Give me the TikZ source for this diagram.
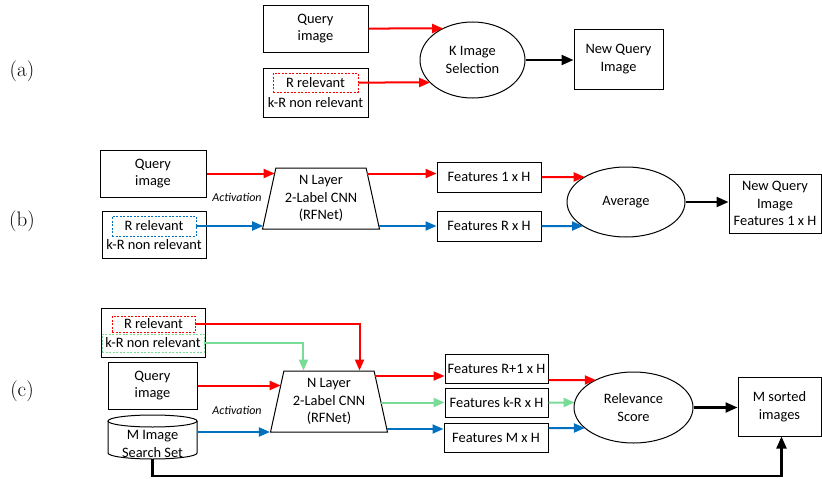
\documentclass[tikz,border=0pt]{standalone}
\usepackage{fontspec}
\newfontfamily\calfont{Carlito}
\usetikzlibrary{shapes.geometric,arrows.meta,intersections,calc}

\definecolor{cred}{RGB}{255,0,0}
\definecolor{cblue}{RGB}{0,112,192}
\definecolor{cgreen}{RGB}{120,220,150}

\tikzset{
  box/.style={draw, line width=1pt, inner sep=0pt, align=center,
    font=\calfont\fontsize{14.4}{17.5}\selectfont},
  plain/.style={inner sep=0pt, align=center,
    font=\calfont\fontsize{14.4}{17.5}\selectfont},
  ell/.style={box, ellipse},
  trap/.style={box, trapezium, trapezium stretches=true,
    trapezium left angle=77, trapezium right angle=77},
  dbox/.style={draw, line width=0.8pt, dash pattern=on 2pt off 1.5pt,
    inner sep=0pt, align=center, font=\calfont\fontsize{14.4}{17.5}\selectfont},
  arr/.style={line width=2pt, -{Triangle[length=11pt,width=9pt]}},
  redarr/.style={arr, cred},
  bluearr/.style={arr, cblue},
  greenarr/.style={arr, cgreen},
  blackarr/.style={line width=2.2pt, black, -{Triangle[length=12pt,width=10pt]}},
  act/.style={font=\calfont\itshape\fontsize{12}{14}\selectfont},
  tag/.style={font=\fontsize{21}{25}\selectfont}
}

\begin{document}
\begin{tikzpicture}[x=1pt,y=-1pt]
\useasboundingbox (0,0) rectangle (822,479);

% ---------------- row (a) ----------------
\node[tag] (la) at (22,71) {(a)};
\node[box, minimum width=105pt, minimum height=47pt] (qa) at (315.5,28.5) {Query\\image};
\node[box, minimum width=105pt, minimum height=49pt] (ra) at (315.5,92.5) {};
\node[dbox, cred, minimum width=85pt, minimum height=19pt, text=black] (rar) at (315.5,82.5) {R relevant};
\node[plain] (rak) at (315.5,102.5) {k-R non relevant};
\node[ell, minimum width=105pt, minimum height=76pt, name path=Ea] (Ea) at (472.5,60) {K Image\\Selection};
\node[box, minimum width=89pt, minimum height=60pt] (na) at (618.5,59) {New Query\\Image};

\path[name path=ga1] (qa.east) -- ++(200,0);
\path[name intersections={of=ga1 and Ea, sort by=ga1}] coordinate (ia1) at (intersection-1);
\draw[redarr] (qa.east) -- (ia1);
\path[name path=ga2] (rar.east) -- ++(200,0);
\path[name intersections={of=ga2 and Ea, sort by=ga2}] coordinate (ia2) at (intersection-1);
\draw[redarr] (rar.east) -- (ia2);
\draw[blackarr] (Ea.east) -- (Ea.east -| na.west);

% ---------------- row (b) ----------------
\node[tag] (lb) at (22,221) {(b)};
\node[box, minimum width=106pt, minimum height=47pt] (qb) at (153,173.5) {Query\\image};
\node[box, minimum width=104pt, minimum height=47pt] (rb) at (154,234.5) {};
\node[dbox, cblue, minimum width=84pt, minimum height=20pt, text=black] (rbr) at (154,226) {R relevant};
\node[plain] (rbk) at (154,245) {k-R non relevant};
\node[trap, minimum width=118pt, minimum height=61pt, name path=Tb] (Tb) at (321,198.5) {N Layer\\2-Label CNN\\(RFNet)};
\node[act] (actb) at (237,197) {Activation};
\node[box, minimum width=104pt, minimum height=30pt] (f1b) at (489,177) {Features 1 x H};
\node[box, minimum width=104pt, minimum height=30pt] (fRb) at (489,226) {Features R x H};
\node[ell, minimum width=118pt, minimum height=70pt, name path=Eb] (Eb) at (626,202) {Average};
\node[box, minimum width=92pt, minimum height=59pt] (nb) at (775,203.5) {New Query\\Image\\Features 1 x H};

\path[name path=gb1] (qb.east) -- (qb.east -| f1b.west);
\path[name intersections={of=gb1 and Tb, sort by=gb1}]
  coordinate (tb1) at (intersection-1) coordinate (tb2) at (intersection-2);
\draw[redarr] (qb.east) -- (tb1);
\draw[redarr] (tb2) -- (tb2 -| f1b.west);
\path[name path=gb2] (rbr.east) -- (rbr.east -| fRb.west);
\path[name intersections={of=gb2 and Tb, sort by=gb2}]
  coordinate (tb3) at (intersection-1) coordinate (tb4) at (intersection-2);
\draw[bluearr] (rbr.east) -- (tb3);
\draw[bluearr] (tb4) -- (tb4 -| fRb.west);
\path[name path=gb3] (f1b.east) -- ++(150,0);
\path[name intersections={of=gb3 and Eb, sort by=gb3}] coordinate (ib1) at (intersection-1);
\draw[redarr] (f1b.east) -- (ib1);
\path[name path=gb4] (fRb.east) -- ++(150,0);
\path[name intersections={of=gb4 and Eb, sort by=gb4}] coordinate (ib2) at (intersection-1);
\draw[bluearr] (fRb.east) -- (ib2);
\draw[blackarr] (Eb.east) -- (Eb.east -| nb.west);

% ---------------- row (c) ----------------
\node[tag] (lc) at (22,391) {(c)};
\node[box, minimum width=104pt, minimum height=49pt] (rc) at (153,332.5) {};
\node[dbox, cred, minimum width=83pt, minimum height=16pt, text=black] (rcr) at (153.5,324) {R relevant};
\node[dbox, cgreen, minimum width=102pt, minimum height=18pt, text=black] (rcg) at (153,343) {k-R non relevant};
\node[box, minimum width=89pt, minimum height=47pt] (qc) at (152.5,385.5) {Query\\image};
% search set drawn as a cylinder
\draw[line width=1pt] (152.5,421) ellipse [x radius=44.5, y radius=6];
\draw[line width=1pt] (108,421) -- (108,453) arc[start angle=180, end angle=0, x radius=44.5, y radius=6] -- (197,421);
\node[plain, minimum width=89pt, minimum height=30pt] (cy) at (152.5,444) {M Image\\Search Set};
\node[trap, minimum width=118pt, minimum height=61pt, name path=Tc] (Tc) at (329,401.5) {N Layer\\2-Label CNN\\(RFNet)};
\node[act] (actc) at (237,410) {Activation};
\node[box, minimum width=103pt, minimum height=29pt] (fa) at (496.5,368.5) {Features R+1 x H};
\node[box, minimum width=103pt, minimum height=29pt] (fb) at (496.5,402.5) {Features k-R x H};
\node[box, minimum width=104pt, minimum height=29pt] (fc) at (496,437.5) {Features M x H};
\node[ell, minimum width=119pt, minimum height=71pt, name path=Ec] (Ec) at (633.5,407.5) {Relevance\\Score};
\node[box, minimum width=83pt, minimum height=59pt] (ms) at (779.5,406.5) {M sorted\\images};

\draw[redarr] (rcr.east) -| ($(Tc.top right corner)+(-15,0)$);
\draw[greenarr] (rcg.east) -| ($(Tc.top left corner)+(20,0)$);
\path[name path=gc1] (qc.east) -- ++(150,0);
\path[name intersections={of=gc1 and Tc, sort by=gc1}] coordinate (tc1) at (intersection-1);
\draw[redarr] (qc.east) -- (tc1);
\draw[bluearr] ([yshift=12pt]cy.east) -- ([yshift=12pt]cy.east -| Tc.bottom left corner);

\path[name path=gc2] ([yshift=-7.5pt]fa.west) -- ++(-150,0);
\path[name intersections={of=gc2 and Tc, sort by=gc2}] coordinate (tc2) at (intersection-1);
\draw[redarr] (tc2) -- ([yshift=-7.5pt]fa.west);
\path[name path=gc3] (fb.west) -- ++(-150,0);
\path[name intersections={of=gc3 and Tc, sort by=gc3}] coordinate (tc3) at (intersection-1);
\draw[greenarr] (tc3) -- (fb.west);
\path[name path=gc4] ([yshift=8.5pt]fc.west) -- ++(-150,0);
\path[name intersections={of=gc4 and Tc, sort by=gc4}] coordinate (tc4) at (intersection-1);
\draw[bluearr] (tc4) -- ([yshift=8.5pt]fc.west);

\path[name path=gc5] ([yshift=-11.5pt]fa.east) -- ++(150,0);
\path[name intersections={of=gc5 and Ec, sort by=gc5}] coordinate (ic1) at (intersection-1);
\draw[redarr] ([yshift=-11.5pt]fa.east) -- (ic1);
\path[name path=gc6] (fb.east) -- ++(150,0);
\path[name intersections={of=gc6 and Ec, sort by=gc6}] coordinate (ic2) at (intersection-1);
\draw[greenarr] (fb.east) -- (ic2);
\path[name path=gc7] ([yshift=9.5pt]fc.east) -- ++(150,0);
\path[name intersections={of=gc7 and Ec, sort by=gc7}] coordinate (ic3) at (intersection-1);
\draw[bluearr] ([yshift=9.5pt]fc.east) -- (ic3);

\draw[blackarr] (Ec.east) -- (Ec.east -| ms.west);
\draw[blackarr] (cy.south) -- ++(0,17) -| ([xshift=2pt]ms.south);
\end{tikzpicture}
\end{document}
